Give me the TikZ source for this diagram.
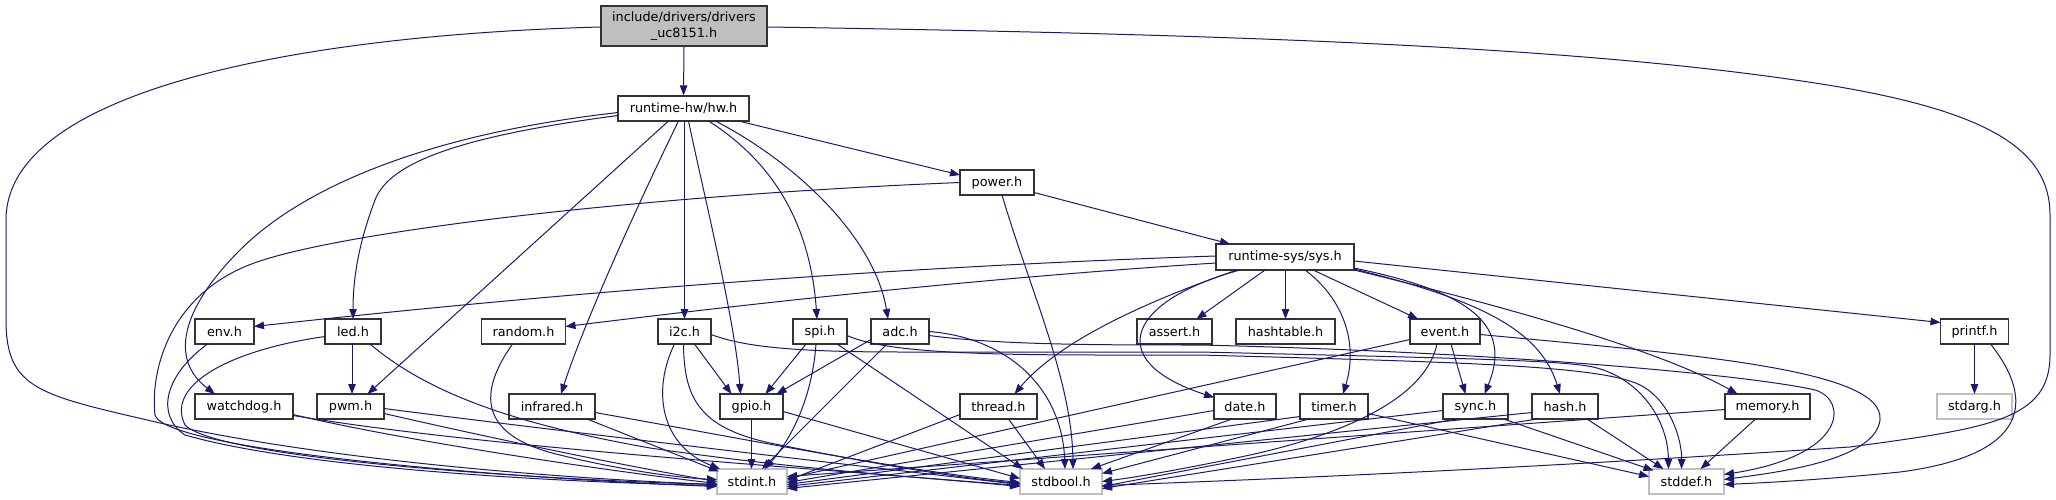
\documentclass[tikz,border=0pt]{standalone}
\usepackage{fontspec}
\setmainfont{DejaVu Sans}
\usetikzlibrary{arrows.meta,calc}
\definecolor{mblue}{HTML}{191970}
\definecolor{lgray}{HTML}{BFBFBF}
\tikzset{
  box/.style={draw=black!80,line width=1.2pt,fill=white,minimum height=25pt,inner sep=0pt,font=\fontsize{12.8}{16}\selectfont,text=black},
  gbox/.style={box,draw=lgray},
  edge/.style={draw=mblue,line width=1pt,-{Triangle[length=10pt,width=7.5pt]}}
}
\begin{document}
\begin{tikzpicture}[x=1pt,y=-1pt]
\useasboundingbox (0,0) rectangle (2056,500);
% nodes
\node[box,fill=lgray,minimum width=166pt,minimum height=40pt,align=center] (top) at (684,26) {include/drivers/drivers\\\_uc8151.h};
\node[box,minimum width=131pt] (hw) at (683.5,108.5) {runtime-hw/hw.h};
\node[box,minimum width=74pt] (power) at (997,182.5) {power.h};
\node[box,minimum width=138pt,minimum height=26pt] (sys) at (1285,257) {runtime-sys/sys.h};
\node[box,minimum width=59pt] (env) at (224.5,331.5) {env.h};
\node[box,minimum width=56pt] (led) at (353,331.5) {led.h};
\node[box,minimum width=84pt] (random) at (523.5,331.5) {random.h};
\node[box,minimum width=53pt] (i2c) at (684.5,331.5) {i2c.h};
\node[box,minimum width=54pt] (spi) at (820,331.5) {spi.h};
\node[box,minimum width=58pt] (adc) at (900,331.5) {adc.h};
\node[box,minimum width=75pt] (assert) at (1174.5,331.5) {assert.h};
\node[box,minimum width=99pt] (hashtable) at (1285.5,331.5) {hashtable.h};
\node[box,minimum width=70pt] (event) at (1445,331.5) {event.h};
\node[box,minimum width=68pt] (printf) at (1974.5,331.5) {printf.h};
\node[box,minimum width=98pt] (watchdog) at (244,406.5) {watchdog.h};
\node[box,minimum width=67pt] (pwm) at (350.5,406.5) {pwm.h};
\node[box,minimum width=86pt] (infrared) at (552,406.5) {infrared.h};
\node[box,minimum width=63pt] (gpio) at (751.5,406.5) {gpio.h};
\node[box,minimum width=77pt] (thread) at (998.5,406.5) {thread.h};
\node[box,minimum width=62pt] (date) at (1245,406.5) {date.h};
\node[box,minimum width=68pt] (timer) at (1334,406.5) {timer.h};
\node[box,minimum width=65pt] (sync) at (1475.5,406.5) {sync.h};
\node[box,minimum width=66pt] (hash) at (1565,406.5) {hash.h};
\node[box,minimum width=85pt] (memory) at (1767.5,406.5) {memory.h};
\node[gbox,minimum width=75pt] (stdarg) at (1974.5,406.5) {stdarg.h};
\node[gbox,minimum width=70pt] (stdint) at (752,481.5) {stdint.h};
\node[gbox,minimum width=82pt] (stdbool) at (1061,481.5) {stdbool.h};
\node[gbox,minimum width=75pt] (stddef) at (1686.5,481.5) {stddef.h};
% top
\draw[edge] (top.south) -- (hw.north);
\draw[edge] ($(top)+(-83,1)$) .. controls (300,35) and (6,90) .. (6,220) -- (6,320) .. controls (6,390) and (40,395) .. (160,423) .. controls (350,465) and (600,480) .. ($(stdint)+(-35,3)$);
\draw[edge] ($(top)+(83,1)$) .. controls (1300,35) and (1600,50) .. (1815,83) .. controls (1990,110) and (2050,150) .. (2050,215) -- (2050,355) .. controls (2050,420) and (1990,428) .. (1850,447) .. controls (1500,470) and (1250,480) .. ($(stdbool)+(41,4)$);
% hw
\draw[edge] ($(hw)+(55,12.5)$) -- ($(power)+(-37,-7.5)$);
\draw[edge] ($(hw)+(-65.5,4)$) .. controls (420,135) and (300,190) .. (240,250) .. controls (180,310) and (170,360) .. ($(watchdog)+(-29,-12.5)$);
\draw[edge] ($(hw)+(-65.5,7)$) .. controls (470,135) and (390,160) .. (375,200) .. controls (358,245) and (353,280) .. ($(led)+(0,-12.5)$);
\draw[edge] ($(hw)+(-15,12.5)$) -- ($(pwm)+(17,-12.5)$);
\draw[edge] ($(hw)+(-5,12.5)$) .. controls (640,200) and (585,320) .. ($(infrared)+(9,-12.5)$);
\draw[edge] ($(hw)+(1,12.5)$) -- ($(i2c)+(0,-12.5)$);
\draw[edge] ($(hw)+(5,12.5)$) .. controls (705,200) and (735,320) .. ($(gpio)+(-11,-12.5)$);
\draw[edge] ($(hw)+(25,12.5)$) .. controls (770,160) and (810,220) .. ($(spi)+(-3,-12.5)$);
\draw[edge] ($(hw)+(32,12.5)$) .. controls (800,165) and (875,240) .. ($(adc)+(-12,-12.5)$);
% power
\draw[edge] ($(power)+(37,10)$) -- ($(sys)+(-55,-13)$);
\draw[edge] ($(power)+(-37,0)$) .. controls (650,195) and (350,230) .. (257,262) .. controls (170,292) and (150,370) .. (155,415) .. controls (165,450) and (500,478) .. ($(stdint)+(-35,5)$);
\draw[edge] ($(power)+(5,12.5)$) .. controls (1030,290) and (1072,380) .. ($(stdbool)+(12,-12.5)$);
% sys
\draw[edge] ($(sys)+(-69,-1)$) .. controls (800,270) and (450,305) .. ($(env)+(29.5,-5)$);
\draw[edge] ($(sys)+(-69,6)$) .. controls (950,280) and (700,310) .. ($(random)+(42,-5)$);
\draw[edge] ($(sys)+(-48,13)$) .. controls (1150,300) and (1060,340) .. ($(thread)+(16,-12.5)$);
\draw[edge] ($(sys)+(-45,13)$) .. controls (1130,300) and (1100,360) .. ($(date)+(-31,-9)$);
\draw[edge] ($(sys)+(-20,13)$) -- ($(assert)+(22,-12.5)$);
\draw[edge] ($(sys)+(0.5,13)$) -- ($(hashtable)+(0,-12.5)$);
\draw[edge] ($(sys)+(20,13)$) .. controls (1345,300) and (1358,345) .. ($(timer)+(9,-12.5)$);
\draw[edge] ($(sys)+(28,13)$) -- ($(event)+(-27,-12.5)$);
\draw[edge] ($(sys)+(69,11)$) .. controls (1460,290) and (1515,320) .. ($(sync)+(9,-12.5)$);
\draw[edge] ($(sys)+(69,12)$) .. controls (1480,300) and (1540,330) .. ($(hash)+(-5,-12.5)$);
\draw[edge] ($(sys)+(69,13)$) .. controls (1500,305) and (1660,350) .. ($(memory)+(-30,-12.5)$);
\draw[edge] ($(sys)+(69,4)$) -- ($(printf)+(-34,-9)$);
% row 3
\draw[edge] ($(env)+(-17,12.5)$) .. controls (165,375) and (155,415) .. (185,435) .. controls (300,468) and (550,482) .. ($(stdint)+(-35,4)$);
\draw[edge] ($(led)+(-28,5)$) .. controls (230,350) and (165,385) .. (185,425) .. controls (220,460) and (550,480) .. ($(stdint)+(-35,3)$);
\draw[edge] ($(led)+(-1,12.5)$) -- ($(pwm)+(1.5,-12.5)$);
\draw[edge] ($(led)+(17,12.5)$) .. controls (430,395) and (520,425) .. (650,448) .. controls (800,470) and (950,480) .. ($(stdbool)+(-41,4)$);
\draw[edge] ($(random)+(-11,12.5)$) .. controls (480,390) and (475,435) .. (560,455) .. controls (620,470) and (680,478) .. ($(stdint)+(-35,-2)$);
\draw[edge] ($(i2c)+(10,12.5)$) -- ($(gpio)+(-20,-12.5)$);
\draw[edge] ($(i2c)+(-10,12.5)$) .. controls (652,390) and (660,445) .. ($(stdint)+(-32,-12.5)$);
\draw[edge] ($(i2c)+(-1,12.5)$) .. controls (684,400) and (700,430) .. (780,445) .. controls (880,465) and (960,478) .. ($(stdbool)+(-41,2)$);
\draw[edge] ($(i2c)+(26.5,3)$) .. controls (740,345) and (780,352) .. (900,352) -- (1200,352) .. controls (1450,358) and (1560,360) .. (1593,367) .. controls (1640,378) and (1668,420) .. ($(stddef)+(-18,-12.5)$);
\draw[edge] ($(spi)+(-14,12.5)$) -- ($(gpio)+(14,-12.5)$);
\draw[edge] ($(spi)+(-4,12.5)$) .. controls (812,400) and (790,440) .. ($(stdint)+(13,-12.5)$);
\draw[edge] ($(spi)+(17,12.5)$) -- ($(stdbool)+(-38,-12.5)$);
\draw[edge] ($(spi)+(27,4)$) .. controls (880,350) and (950,355) .. (1100,355) -- (1200,355) .. controls (1450,362) and (1600,365) .. (1640,385) .. controls (1670,400) and (1682,440) .. ($(stddef)+(-5,-12.5)$);
\draw[edge] ($(adc)+(-29,8)$) -- ($(gpio)+(25,-12.5)$);
\draw[edge] ($(adc)+(-13,12.5)$) -- ($(stdint)+(10,-12.5)$);
\draw[edge] ($(adc)+(29,0)$) .. controls (1010,338) and (1062,390) .. ($(stdbool)+(4,-12.5)$);
\draw[edge] ($(adc)+(29,4)$) .. controls (1000,345) and (1100,345) .. (1200,345) .. controls (1500,352) and (1750,375) .. (1815,390) .. controls (1848,400) and (1848,455) .. ($(stddef)+(37.5,-7)$);
\draw[edge] ($(event)+(-35,8)$) -- ($(stdint)+(35,-3)$);
\draw[edge] ($(event)+(-8,12.5)$) .. controls (1425,400) and (1340,435) .. (1250,455) .. controls (1180,470) and (1130,478) .. ($(stdbool)+(41,0)$);
\draw[edge] ($(event)+(6,12.5)$) -- ($(sync)+(-10,-12.5)$);
\draw[edge] ($(event)+(35,3)$) .. controls (1700,355) and (1885,370) .. (1880,420) .. controls (1875,460) and (1780,472) .. ($(stddef)+(37.5,-2)$);
\draw[edge] ($(printf)+(0,12.5)$) -- ($(stdarg)+(0,-12.5)$);
\draw[edge] ($(printf)+(16,12.5)$) .. controls (2035,400) and (2030,455) .. (1900,472) .. controls (1820,480) and (1760,483) .. ($(stddef)+(37.5,3)$);
% row 4
\draw[edge] ($(watchdog)+(49,8)$) .. controls (400,440) and (600,470) .. ($(stdint)+(-35,2)$);
\draw[edge] ($(watchdog)+(49,9)$) .. controls (500,450) and (850,470) .. ($(stdbool)+(-41,5)$);
\draw[edge] ($(pwm)+(33.5,7)$) .. controls (500,440) and (620,465) .. ($(stdint)+(-35,0)$);
\draw[edge] ($(pwm)+(33.5,2)$) .. controls (550,430) and (850,465) .. ($(stdbool)+(-41,3)$);
\draw[edge] ($(infrared)+(35,12.5)$) -- ($(stdint)+(-33,-10)$);
\draw[edge] ($(infrared)+(43,6)$) .. controls (750,440) and (900,470) .. ($(stdbool)+(-41,1)$);
\draw[edge] ($(gpio)+(0,12.5)$) -- ($(stdint)+(-0.5,-12.5)$);
\draw[edge] ($(gpio)+(31.5,5)$) -- ($(stdbool)+(-41,-3)$);
\draw[edge] ($(thread)+(-38.5,8)$) -- ($(stdint)+(35,-1)$);
\draw[edge] ($(thread)+(10,12.5)$) -- ($(stdbool)+(-16,-12.5)$);
\draw[edge] ($(date)+(-31,4)$) -- ($(stdint)+(35,1)$);
\draw[edge] ($(date)+(-13,12.5)$) -- ($(stdbool)+(30,-12.5)$);
\draw[edge] ($(timer)+(-34,10)$) -- ($(stdint)+(35,3)$);
\draw[edge] ($(timer)+(-25,12.5)$) -- ($(stdbool)+(41,-8)$);
\draw[edge] ($(timer)+(34,7)$) -- ($(stddef)+(-37.5,-5)$);
\draw[edge] ($(sync)+(-32.5,4)$) -- ($(stdint)+(35,5)$);
\draw[edge] ($(sync)+(-20,12.5)$) -- ($(stdbool)+(41,5)$);
\draw[edge] ($(sync)+(28,12.5)$) -- ($(stddef)+(-33,-11)$);
\draw[edge] ($(hash)+(-33,6)$) -- ($(stdint)+(35,7)$);
\draw[edge] ($(hash)+(-28,12.5)$) -- ($(stdbool)+(41,7)$);
\draw[edge] ($(hash)+(22,12.5)$) -- ($(stddef)+(-23,-12.5)$);
\draw[edge] ($(memory)+(-42.5,3)$) -- ($(stdint)+(35,-5)$);
\draw[edge] ($(memory)+(-12,12.5)$) -- ($(stddef)+(14,-12.5)$);
\end{tikzpicture}
\end{document}
